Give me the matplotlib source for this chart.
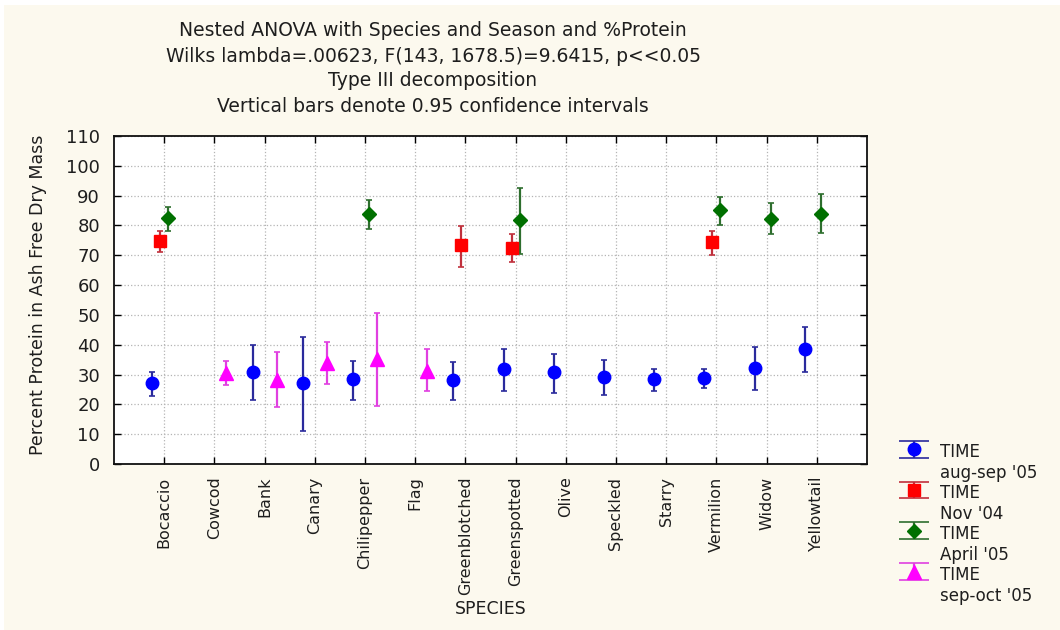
import numpy as np
import matplotlib
matplotlib.use("Agg")
import matplotlib.pyplot as plt
from matplotlib.patches import Rectangle

species = ["Bocaccio", "Cowcod", "Bank", "Canary", "Chilipepper", "Flag",
           "Greenblotched", "Greenspotted", "Olive", "Speckled", "Starry",
           "Vermilion", "Widow", "Yellowtail"]
y_ticks = [0, 10, 20, 30, 40, 50, 60, 70, 80, 90, 100, 110]

# TIME aug-sep '05 (mean, lower CI, upper CI); None = not sampled
aug_sep_05_mean = [27.0, None, 30.8, 27.0, 28.5, None, 28.1, 31.9, 30.8, 29.2, 28.5, 28.8, 32.2, 38.4]
aug_sep_05_low = [22.7, None, 21.6, 10.9, 21.6, None, 21.6, 24.6, 23.8, 23.1, 24.6, 25.4, 24.9, 30.7]
aug_sep_05_high = [30.8, None, 40.0, 42.7, 34.5, None, 34.2, 38.4, 36.9, 34.8, 31.9, 31.9, 39.2, 45.8]

# TIME Nov '04
nov_04_mean = [74.8, None, None, None, None, None, 73.4, 72.6, None, None, None, 74.5, None, None]
nov_04_low = [71.1, None, None, None, None, None, 66.1, 67.8, None, None, None, 70.2, None, None]
nov_04_high = [78.3, None, None, None, None, None, 79.8, 77.2, None, None, None, 78.0, None, None]

# TIME April '05
april_05_mean = [82.6, None, None, None, 84.0, None, None, 81.8, None, None, None, 85.2, 82.1, 84.0]
april_05_low = [78.1, None, None, None, 78.8, None, None, 70.3, None, None, None, 80.3, 77.0, 77.6]
april_05_high = [86.3, None, None, None, 88.5, None, None, 92.4, None, None, None, 89.7, 87.4, 90.6]

# TIME sep-oct '05
sep_oct_05_mean = [None, 30.6, 28.3, 33.9, 35.1, 31.1, None, None, None, None, None, None, None, None]
sep_oct_05_low = [None, 26.6, 19.1, 26.9, 19.6, 24.4, None, None, None, None, None, None, None, None]
sep_oct_05_high = [None, 34.5, 37.5, 40.9, 50.8, 38.4, None, None, None, None, None, None, None, None]

series_labels = ["TIME\naug-sep '05", "TIME\nNov '04", "TIME\nApril '05", "TIME\nsep-oct '05"]

title_lines = ["Nested ANOVA with Species and Season and %Protein",
               "Wilks lambda=.00623, F(143, 1678.5)=9.6415, p<<0.05",
               "Type III decomposition",
               "Vertical bars denote 0.95 confidence intervals"]

cream = "#fcf9ee"
text_color = "#1e1e1e"

fig = plt.figure(figsize=(10.6, 6.3), dpi=100)
fig.patch.set_facecolor("white")
fig.add_artist(Rectangle((4 / 1060, 0), 1, 1 - 5 / 630, transform=fig.transFigure,
                         facecolor=cream, edgecolor="none", zorder=-10))

ax = fig.add_axes([114 / 1060, 1 - 464 / 630, 753 / 1060, 328 / 630])
ax.set_facecolor("white")

styles = [
    # offset, marker, size, face colour, bar colour
    (-0.24, "o", 9, "#0000ff", "#2a2a9c"),
    (-0.08, "s", 9, "#ff0000", "#c0303c"),
    (0.08, "D", 7, "#007000", "#2e6e2e"),
    (0.24, "^", 10, "#ff00ff", "#e040e0"),
]
all_series = [
    (aug_sep_05_mean, aug_sep_05_low, aug_sep_05_high),
    (nov_04_mean, nov_04_low, nov_04_high),
    (april_05_mean, april_05_low, april_05_high),
    (sep_oct_05_mean, sep_oct_05_low, sep_oct_05_high),
]

handles = []
for (means, lows, highs), (off, mk, ms, fc, ec), lab in zip(all_series, styles, series_labels):
    idx = [i for i, m in enumerate(means) if m is not None]
    x = np.array(idx) + off
    m = np.array([means[i] for i in idx])
    lo = np.array([lows[i] for i in idx])
    hi = np.array([highs[i] for i in idx])
    eb = ax.errorbar(x, m, yerr=[m - lo, hi - m], fmt=mk, markersize=ms,
                     color=fc, mec=fc, ecolor=ec, elinewidth=1.6,
                     capsize=2.5, capthick=1.2, linestyle="none",
                     label=lab, zorder=3)
    handles.append(eb)

ax.set_xlim(-1, 14)
ax.set_ylim(0, 110)
ax.set_xticks(range(len(species)))
ax.set_xticklabels(species, rotation=90, fontsize=11.5, color=text_color)
ax.set_yticks(y_ticks)
ax.set_yticklabels([str(t) for t in y_ticks], fontsize=13, color=text_color)
ax.tick_params(direction="in", top=True, right=True, length=5, width=1)
ax.tick_params(axis="x", pad=9)
ax.tick_params(axis="y", pad=10)

ax.grid(True, linestyle=":", color="#b4b4b4", linewidth=0.9)
ax.set_axisbelow(True)
for sp in ax.spines.values():
    sp.set_linewidth(1.3)
    sp.set_color("#101010")

ax.set_xlabel("SPECIES", fontsize=12.5, color=text_color)
ax.xaxis.set_label_coords(0.5, -0.415)
ax.set_ylabel("Percent Protein in Ash Free Dry Mass", fontsize=12.5, color=text_color)
ax.yaxis.set_label_coords(-0.089, 0.515)

for k, line in enumerate(title_lines):
    fig.text(433 / 1060, 1 - (31 + 25 * k) / 630, line, ha="center", va="center",
             fontsize=13.5, color=text_color)

# wide caps in the legend only
for eb in handles:
    for cl in eb[1]:
        cl.set_markersize(22)
leg = ax.legend(handles=handles, labels=series_labels, frameon=False,
                loc="upper left", bbox_to_anchor=(887 / 1060, 1 - 435 / 630),
                bbox_transform=fig.transFigure, fontsize=12, handlelength=2.2,
                handletextpad=0.5, labelspacing=0.12, borderpad=0)
for eb in handles:
    for cl in eb[1]:
        cl.set_markersize(5)
for t in leg.get_texts():
    t.set_color(text_color)
for col in leg._legend_handle_box.get_children():
    for hp in col.get_children():
        hp.align = "top"

fig.savefig("out.png", dpi=100, facecolor=fig.get_facecolor())
